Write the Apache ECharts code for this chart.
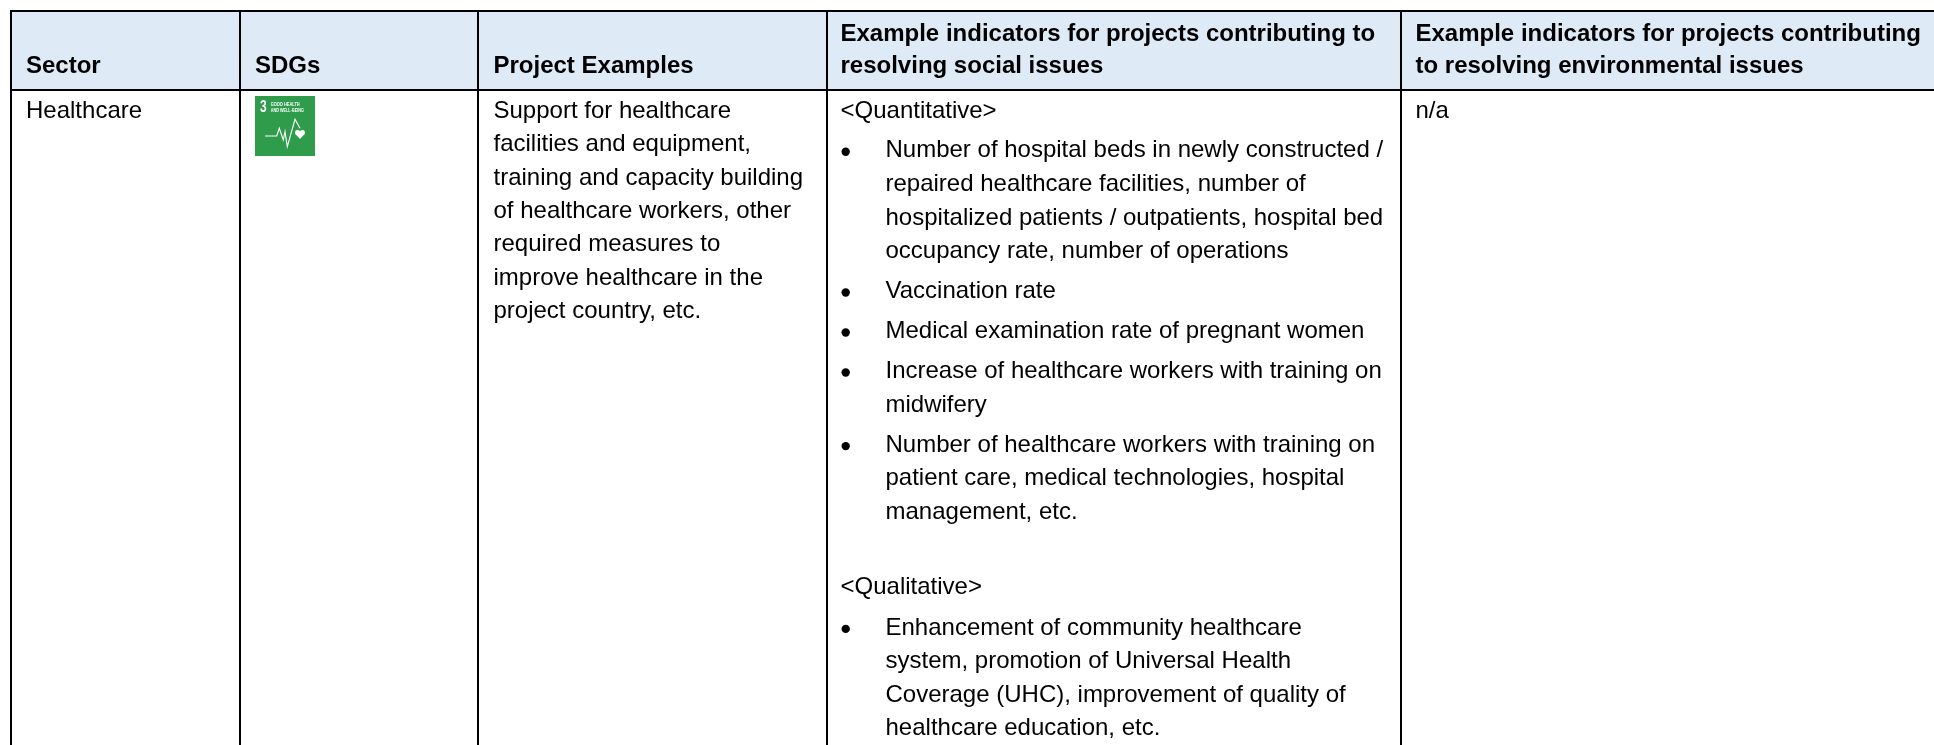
<!DOCTYPE html>
<html>
<head>
<meta charset="utf-8">
<title>Sector table</title>
<style>
  html, body { margin: 0; padding: 0; background: #fff; }
  #main { width: 1934px; height: 745px; }
</style>
<script src="https://cdn.jsdelivr.net/npm/echarts@6/dist/echarts.min.js"></script>
</head>
<body>
<div id="main"></div>
<script>
// table text
var headers = [
  ["Sector"],
  ["SDGs"],
  ["Project Examples"],
  ["Example indicators for projects contributing to", "resolving social issues"],
  ["Example indicators for projects contributing", "to resolving environmental issues"]
];
var sectorLines = ["Healthcare"];
var projectLines = [
  "Support for healthcare",
  "facilities and equipment,",
  "training and capacity building",
  "of healthcare workers, other",
  "required measures to",
  "improve healthcare in the",
  "project country, etc."
];
var quantitativeTitle = "<Quantitative>";
var quantitativeItems = [
  ["Number of hospital beds in newly constructed /", "repaired healthcare facilities, number of", "hospitalized patients / outpatients, hospital bed", "occupancy rate, number of operations"],
  ["Vaccination rate"],
  ["Medical examination rate of pregnant women"],
  ["Increase of healthcare workers with training on", "midwifery"],
  ["Number of healthcare workers with training on", "patient care, medical technologies, hospital", "management, etc."]
];
var qualitativeTitle = "<Qualitative>";
var qualitativeItems = [
  ["Enhancement of community healthcare", "system, promotion of Universal Health", "Coverage (UHC), improvement of quality of", "healthcare education, etc."]
];
var environmentalLines = ["n/a"];
var sdgIconText = ["3", "GOOD HEALTH", "AND WELL-BEING"];

// layout
var W = 1934, H = 745;
var columnLines = [11, 240, 478, 827, 1401];
var textX = [26, 255, 493.5, 840.5, 1415.5];
var bulletX = 845.7, bulletTextX = 885.5;
var topLine = 11, headerLine = 90;
var pitch = 33.4, listPitch = 33.6, paraGap = 6.4, firstY = 111.2;
var fontName = "'Liberation Sans', Arial, sans-serif";

var textRows = [], bulletRows = [];
function addRow(x, y, text, bold) { textRows.push([x, y, text, bold ? 1 : 0]); }

headers.forEach(function (h, i) {
  var y = h.length === 1 ? 66 : 34;
  h.forEach(function (t, j) { addRow(textX[i], y + j * 32.5, t, true); });
});
sectorLines.forEach(function (t, j) { addRow(textX[0], firstY + j * pitch, t); });
projectLines.forEach(function (t, j) { addRow(textX[2], firstY + j * pitch, t); });
environmentalLines.forEach(function (t, j) { addRow(textX[4], firstY + j * pitch, t); });

function addItems(items, y) {
  items.forEach(function (lines) {
    bulletRows.push([bulletX, y + 1]);
    lines.forEach(function (t) { addRow(bulletTextX, y, t); y += listPitch; });
    y += paraGap;
  });
  return y;
}
var y = firstY;
addRow(textX[3], y, quantitativeTitle);
y = addItems(quantitativeItems, y + listPitch + paraGap - 0.5);
y += listPitch + 1;
addRow(textX[3], y, qualitativeTitle);
addItems(qualitativeItems, y + listPitch + paraGap + 1);

var ruleRows = [[columnLines[0] - 1, topLine, W, topLine], [columnLines[0] - 1, headerLine, W, headerLine]];
columnLines.forEach(function (x) { ruleRows.push([x, topLine, x, H]); });

var myChart = echarts.init(document.getElementById("main"));
var option = {
  animation: false,
  backgroundColor: "#ffffff",
  grid: { left: 0, right: 0, top: 0, bottom: 0 },
  xAxis: { type: "value", min: 0, max: W, show: false },
  yAxis: { type: "value", min: 0, max: H, inverse: true, show: false },
  series: [
    {
      // header band
      type: "custom", silent: true, z: 1, clip: false,
      data: [[columnLines[0], topLine, W, headerLine]],
      encode: { x: [0, 2], y: [1, 3] },
      renderItem: function (params, api) {
        var a = api.coord([api.value(0), api.value(1)]);
        var b = api.coord([api.value(2), api.value(3)]);
        return { type: "rect", shape: { x: a[0], y: a[1], width: b[0] - a[0], height: b[1] - a[1] }, style: { fill: "#DEEBF7" } };
      }
    },
    {
      // table rules
      type: "custom", silent: true, z: 2, clip: false,
      data: ruleRows,
      encode: { x: [0, 2], y: [1, 3] },
      renderItem: function (params, api) {
        var a = api.coord([api.value(0), api.value(1)]);
        var b = api.coord([api.value(2), api.value(3)]);
        return { type: "line", shape: { x1: a[0], y1: a[1], x2: b[0], y2: b[1] }, style: { stroke: "#000", lineWidth: 2 } };
      }
    },
    {
      // list bullets
      type: "custom", silent: true, z: 3, clip: false,
      data: bulletRows,
      encode: { x: 0, y: 1 },
      renderItem: function (params, api) {
        var p = api.coord([api.value(0), api.value(1)]);
        return { type: "circle", shape: { cx: p[0], cy: p[1], r: 4.2 }, style: { fill: "#000" } };
      }
    },
    {
      // text lines
      type: "custom", silent: true, z: 3, clip: false,
      data: textRows.map(function (r) { return [r[0], r[1]]; }),
      encode: { x: 0, y: 1 },
      renderItem: function (params, api) {
        var row = textRows[params.dataIndex];
        var p = api.coord([row[0], row[1]]);
        return {
          type: "text", x: p[0], y: p[1],
          style: {
            text: row[2], fill: "#000",
            font: (row[3] ? "bold " : "") + "24px " + fontName,
            textAlign: "left", textVerticalAlign: "middle"
          }
        };
      }
    }
  ],
  graphic: [
    {
      // SDG 3 tile
      type: "group", x: 255, y: 96, silent: true, z: 10,
      children: [
        { type: "rect", shape: { x: 0, y: 0, width: 60, height: 60 }, style: { fill: "#2F9C4B" } },
        { type: "text", x: 5, y: 11.8, scaleX: 0.75, style: { text: sdgIconText[0], fill: "#fff", font: "bold 16px " + fontName, textVerticalAlign: "middle" } },
        { type: "text", x: 15.7, y: 8, scaleX: 0.66, style: { text: sdgIconText[1], fill: "#fff", font: "bold 6px " + fontName, textVerticalAlign: "middle" } },
        { type: "text", x: 15.7, y: 14.7, scaleX: 0.63, style: { text: sdgIconText[2], fill: "#fff", font: "bold 6px " + fontName, textVerticalAlign: "middle" } },
        { type: "polyline", shape: { points: [[10, 40], [21.7, 40], [24.3, 32.3], [28.3, 44], [30, 35.7], [32.3, 50.7], [40, 23.3], [45, 32.3]] }, style: { stroke: "#fff", fill: null, lineWidth: 1.1 } },
        { type: "circle", shape: { cx: 42.6, cy: 36.6, r: 2.6 }, style: { fill: "#fff" } },
        { type: "circle", shape: { cx: 47.4, cy: 36.6, r: 2.6 }, style: { fill: "#fff" } },
        { type: "polygon", shape: { points: [[40.2, 37.8], [49.8, 37.8], [45, 43]] }, style: { fill: "#fff" } }
      ]
    }
  ]
};
myChart.setOption(option);
</script>
</body>
</html>
